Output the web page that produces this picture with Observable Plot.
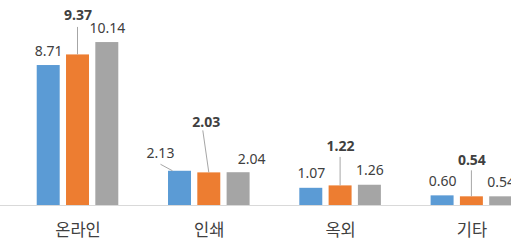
<!DOCTYPE html>
<html><head><meta charset="utf-8">
<script src="https://cdn.jsdelivr.net/npm/d3@7"></script>
<script src="https://cdn.jsdelivr.net/npm/@observablehq/plot@0.6"></script>
<style>html,body{margin:0;padding:0;background:#fff;overflow:hidden}</style>
</head><body><div id="chart"></div>
<script>
// ---- data ----
const categories = ["온라인", "인쇄", "옥외", "기타"];
const seriesNames = ["계열1", "계열2", "계열3"];
const blueValues = [8.71, 2.13, 1.07, 0.60];
const orangeValues = [9.37, 2.03, 1.22, 0.54];
const grayValues = [10.14, 2.04, 1.26, 0.54];

// ---- styling ----
const colors = ["#5b9bd5", "#ed7d31", "#a5a5a5"];
const textColor = "#404040";
const step = 29.3;          // pixel distance between bars inside a group
const numFont = 14;

const rows = [];
[blueValues, orangeValues, grayValues].forEach((vals, s) =>
  vals.forEach((v, i) => rows.push({cat: categories[i], series: seriesNames[s], s, v})));

// label placement (pixels): rise above the bar top, horizontal shift
function labelPos(r) {
  if (r.s === 1) {
    const rises = {"온라인": 35.4, "인쇄": 45.7, "옥외": 34.7, "기타": 32};
    return {dx: r.cat === "인쇄" ? -3 : 0, rise: rises[r.cat]};
  }
  if (r.cat === "인쇄" && r.s === 0) return {dx: -19.5, rise: 12.8};
  if (r.cat === "인쇄" && r.s === 2) return {dx: 13, rise: 9};
  return {dx: 0, rise: 10};
}
// leader lines (pixels relative to bar top center)
const leaders = [
  {cat: "온라인", s: 1, x1: 0, r1: 27.5, x2: 0, r2: 0},
  {cat: "인쇄", s: 1, x1: -6, r1: 42, x2: 0, r2: 0},
  {cat: "옥외", s: 1, x1: 0, r1: 28.5, x2: 0, r2: 0},
  {cat: "기타", s: 1, x1: 0, r1: 26, x2: 0, r2: 0},
  {cat: "인쇄", s: 0, x1: -19, r1: 6.5, x2: -7, r2: 0}
];

const fmt = d3.format(".2f");

const barMarks = [0, 1, 2].map(s =>
  Plot.barY(rows.filter(r => r.s === s), {
    x: "cat", y: "v", fill: colors[s], dx: (s - 1) * step
  }));

const labelMarks = rows.map(r => {
  const p = labelPos(r);
  return Plot.text([r], {
    x: "cat", y: "v", text: d => fmt(d.v),
    dx: (r.s - 1) * step + p.dx,
    dy: -p.rise - 0.32 * numFont,
    fill: textColor, fontSize: numFont,
    fontWeight: r.s === 1 ? "bold" : "normal"
  });
});

function leaderMark(index, scales) {
  const {x, y} = scales;
  const bw = typeof x.bandwidth === "function" ? x.bandwidth() : (x.bandwidth || 0);
  const g = d3.create("svg:g").attr("stroke", "#a6a6a6").attr("stroke-width", 1).attr("fill", "none");
  for (const L of leaders) {
    const r = rows.find(d => d.cat === L.cat && d.s === L.s);
    const cx = x(L.cat) + bw / 2 + (L.s - 1) * step;
    const cy = y(r.v);
    g.append("line")
      .attr("x1", cx + L.x1).attr("y1", cy - L.r1)
      .attr("x2", cx + L.x2).attr("y2", cy - L.r2);
  }
  return g.node();
}

const chart = Plot.plot({
  width: 511,
  height: 246,
  marginTop: 0, marginRight: 0, marginBottom: 0, marginLeft: 0,
  style: {fontFamily: "'Noto Sans','Noto Sans CJK KR',sans-serif", background: "#fff", color: textColor},
  x: {type: "band", domain: categories, range: [-42.3, 591.2], padding: 0.825, round: false, axis: null},
  y: {domain: [0, 12], range: [205, 12.16], axis: null},
  marks: [
    ...barMarks,
    Plot.ruleY([0], {stroke: "#d9d9d9", strokeWidth: 1}),
    leaderMark,
    ...labelMarks,
    Plot.text(categories, {
      x: d => d, y: d => 0, text: d => d, dy: 24.9,
      fontSize: 16.5, fill: textColor,
      fontFamily: "'Noto Sans CJK KR',sans-serif"
    })
  ]
});
document.getElementById("chart").appendChild(chart);
</script>
</body></html>
